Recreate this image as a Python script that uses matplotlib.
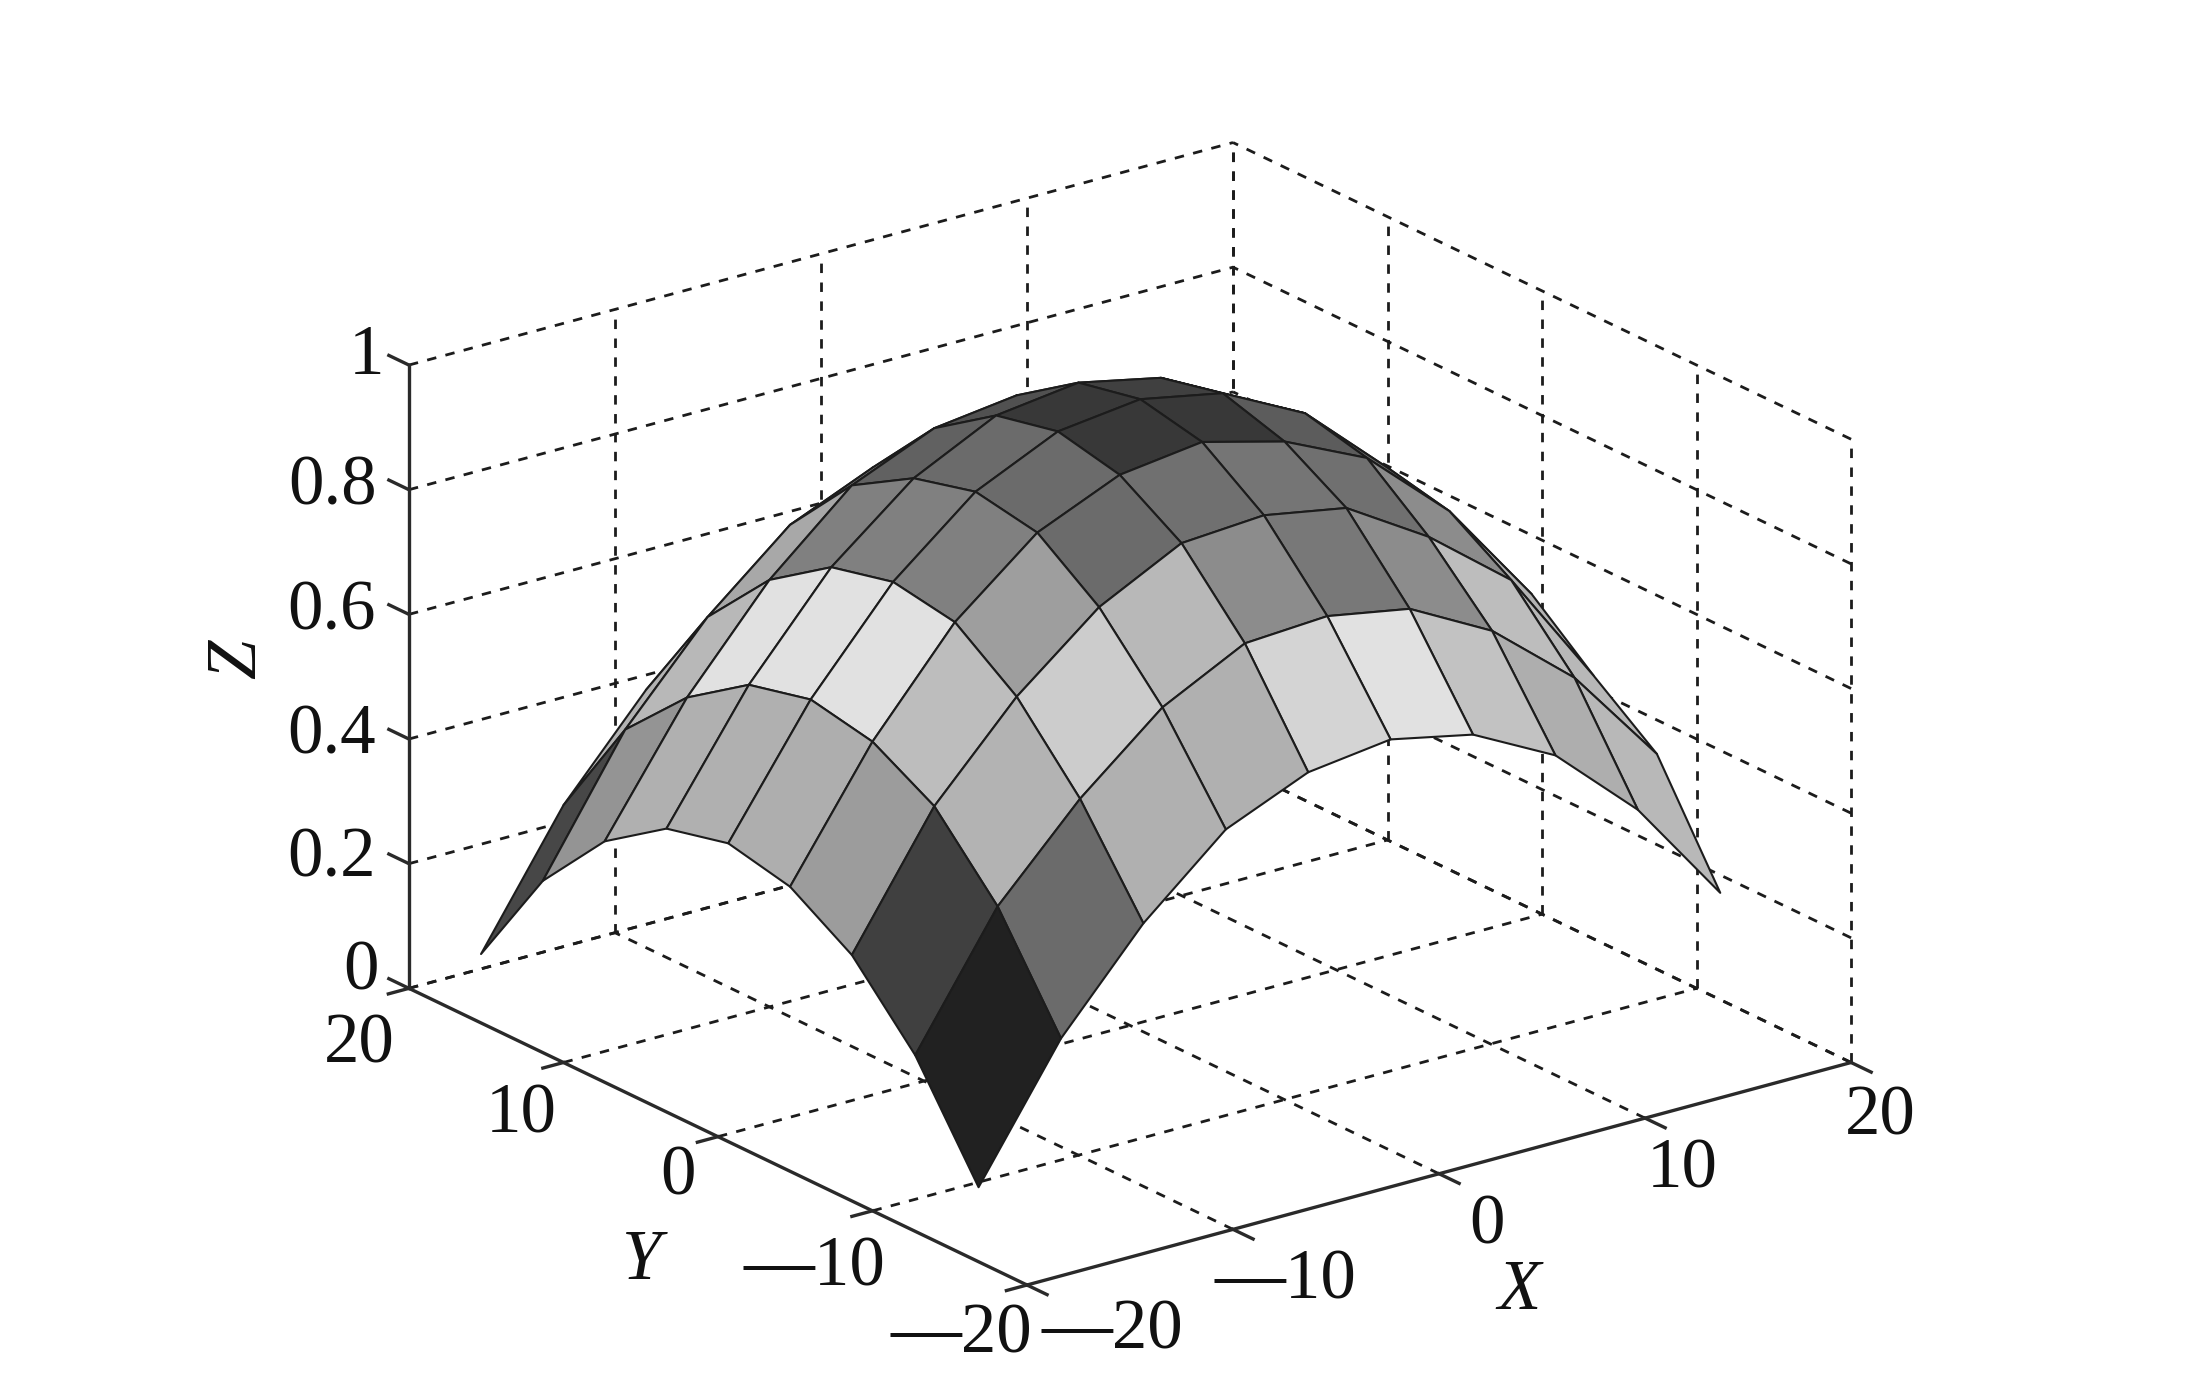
import numpy as np
import matplotlib
matplotlib.use('Agg')
import matplotlib.pyplot as plt
from mpl_toolkits.mplot3d import proj3d

# Surface grid, values
x_grid = [-18, -14, -10, -6, -2, 2, 6, 10, 14, 18]
y_grid = [-14.2, -10.1, -6, -2, 2, 6, 10, 14, 18]
z_values = [
    [.070, .273, .422, .537, .593, .610, .582, .513, .390, .221],
    [.233, .436, .573, .684, .751, .759, .735, .664, .553, .395],
    [.345, .548, .688, .796, .863, .872, .848, .766, .661, .472],
    [.407, .604, .760, .868, .925, .942, .907, .845, .724, .555],
    [.429, .624, .777, .886, .947, .963, .937, .869, .746, .577],
    [.405, .600, .753, .860, .925, .942, .914, .845, .722, .553],
    [.337, .532, .685, .801, .857, .874, .846, .777, .654, .485],
    [.226, .433, .578, .690, .746, .763, .735, .666, .543, .374],
    [.061, .264, .413, .525, .581, .598, .570, .501, .378, .209],
]
# Gray level of each cell
cell_gray = [
    [.13, .42, .69, .69, .83, .88, .76, .68, .72],
    [.25, .70, .80, .72, .55, .47, .55, .74, .72],
    [.61, .74, .62, .42, .44, .46, .44, .55, .70],
    [.68, .88, .50, .42, .22, .22, .36, .42, .55],
    [.69, .88, .50, .42, .22, .25, .30, .40, .50],
    [.69, .88, .50, .38, .32, .30, .30, .35, .45],
    [.58, .72, .66, .50, .38, .32, .32, .35, .45],
    [.28, .70, .70, .55, .45, .40, .40, .45, .50],
]

x_ticks = [-20, -10, 0, 10, 20]
y_ticks = [-20, -10, 0, 10, 20]
z_ticks = [0, 0.2, 0.4, 0.6, 0.8, 1]

# Tick labels: text and centre in the 1568x983 view
z_labels = [('1', 262, 255), ('0.8', 238, 349), ('0.6', 237, 438), ('0.4', 237, 527), ('0.2', 237, 615), ('0', 258, 696)]
y_labels = [('20', 257, 748), ('10', 373, 798), ('0', 485, 843), ('\u201410', 583, 908), ('\u201420', 688, 956)]
x_labels = [('\u201420', 796, 953), ('\u201410', 920, 917), ('0', 1064, 878), ('10', 1204, 838), ('20', 1346, 800)]

plt.rcParams['font.family'] = ['Liberation Serif', 'DejaVu Serif']
ink = '#1c1c1c'

fig = plt.figure(figsize=(21.91, 13.73), dpi=100)
side = 1373 / 2191
ax = fig.add_axes([0.15, 0, side, 1], projection='3d', proj_type='ortho', computed_zorder=False)
ax.set_axis_off()
ax.set_xlim(-20, 20)
ax.set_ylim(-20, 20)
ax.set_zlim(0, 1)
ax.view_init(elev=21.1, azim=-126.87)
aspect = (1030, 1030, 668)
ax.set_box_aspect(aspect, zoom=1.1)


def to_px(x, y, z):
    xs, ys, _ = proj3d.proj_transform(x, y, z, ax.get_proj())
    return ax.transData.transform((xs, ys))


# Fit the box to the corners of the original axes
span = np.linalg.norm(to_px(20, -20, 0) - to_px(-20, -20, 0))
ax.set_box_aspect(aspect, zoom=1.1 * 853.6 / span)
shift = np.array([1027, 1373 - 1285]) - to_px(-20, -20, 0)
ax.set_position([0.15 + shift[0] / 2191, shift[1] / 1373, side, 1])

dash = dict(color=ink, lw=2.0, linestyle=(0, (3.4, 3.4)), zorder=1, clip_on=False)
for x in x_ticks[1:]:
    ax.plot([x, x], [-20, 20], [0, 0], **dash)
    ax.plot([x, x], [20, 20], [0, 1], **dash)
for y in y_ticks[1:]:
    ax.plot([-20, 20], [y, y], [0, 0], **dash)
    ax.plot([20, 20], [y, y], [0, 1], **dash)
for z in z_ticks:
    ax.plot([-20, 20], [20, 20], [z, z], **dash)
    ax.plot([20, 20], [-20, 20], [z, z], **dash)
ax.plot([20, 20], [-20, -20], [0, 1], **dash)

# Solid axes and ticks, the ticks point away from the box
solid = dict(color='#2a2a2a', lw=2.4, zorder=1.5, clip_on=False)
ax.plot([-20, 20], [-20, -20], [0, 0], **solid)
ax.plot([-20, -20], [-20, 20], [0, 0], **solid)
ax.plot([-20, -20], [20, 20], [0, 1], **solid)
for x in x_ticks:
    ax.plot([x, x], [-21.3, -20], [0, 0], **solid)
for y in y_ticks:
    ax.plot([-21, -20], [y, y], [0, 0], **solid)
for z in z_ticks:
    ax.plot([-20, -20], [20, 21.3], [z, z], **solid)

X, Y = np.meshgrid(x_grid, y_grid)
Z = np.array(z_values)
faces = plt.cm.gray(np.array(cell_gray))
ax.plot_surface(X, Y, Z, rstride=1, cstride=1, facecolors=faces, shade=False,
                edgecolor=ink, linewidth=1.5, zorder=2, clip_on=False)

for text, px, py in z_labels + y_labels + x_labels:
    fig.text(px / 1568, 1 - py / 983, text, fontsize=51, color='#111111', ha='center', va='center')
fig.text(170 / 1568, 1 - 472 / 983, 'Z', fontsize=51, style='italic', rotation=90, color='#111111', ha='center', va='center')
fig.text(459 / 1568, 1 - 903 / 983, 'Y', fontsize=51, style='italic', color='#111111', ha='center', va='center')
fig.text(1087 / 1568, 1 - 925 / 983, 'X', fontsize=51, style='italic', color='#111111', ha='center', va='center')

fig.savefig('out.png', dpi=100)
